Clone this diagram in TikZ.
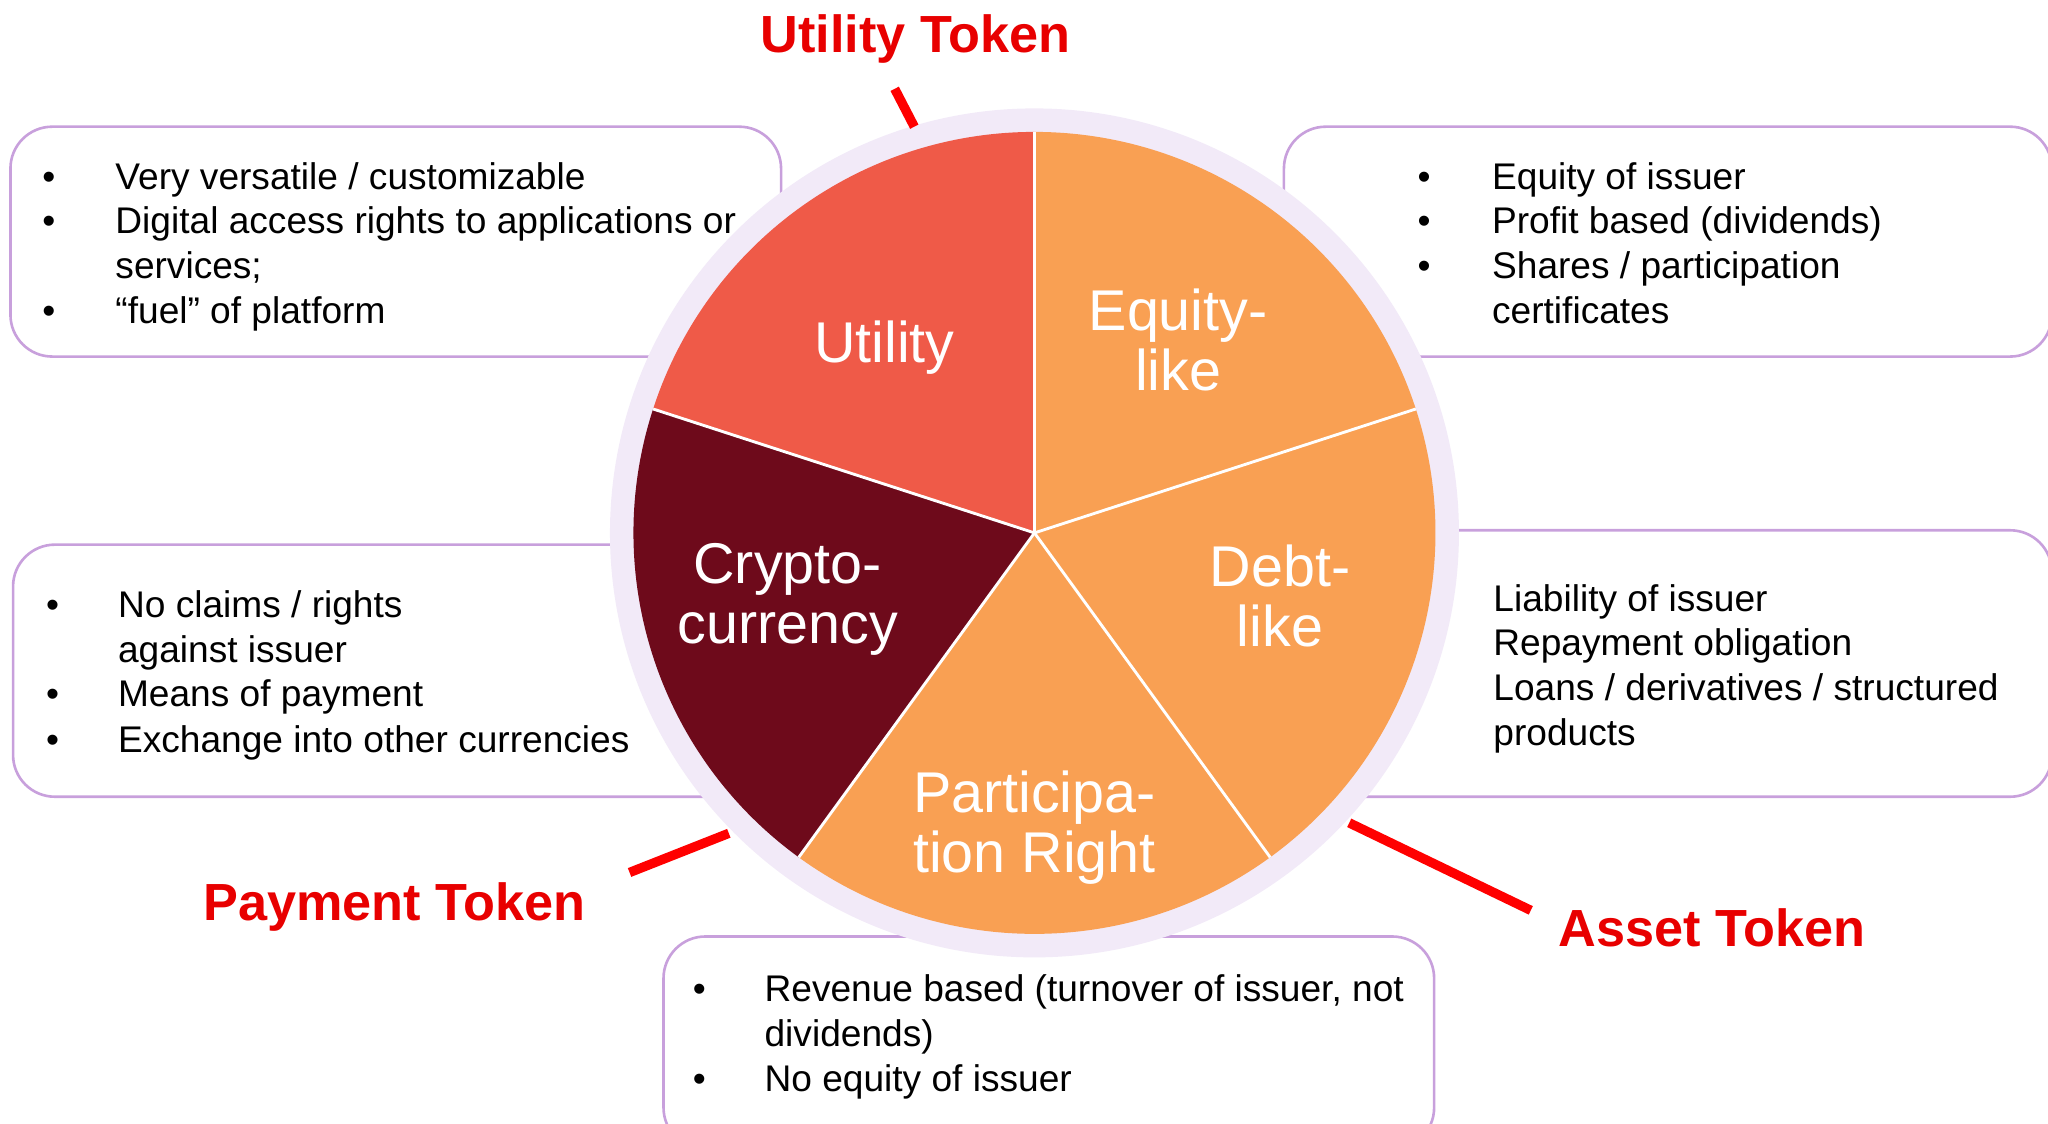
\documentclass[tikz,border=0pt]{standalone}
\usepackage{fontspec}
\setmainfont{Liberation Sans}
\definecolor{boxline}{HTML}{C8A0DC}
\definecolor{halo}{HTML}{F2EAF8}
\definecolor{utilred}{HTML}{EF5A48}
\definecolor{orangeslice}{HTML}{F9A053}
\definecolor{maroon}{HTML}{6E0A1B}
\definecolor{labelred}{HTML}{E80000}
\definecolor{linered}{HTML}{FF0000}
\tikzset{
  infobox/.style={draw=boxline, line width=1pt, fill=white, rounded corners=16pt},
  bodytext/.style={inner sep=0pt, anchor=base west, font=\fontsize{14.2pt}{17pt}\selectfont},
  bulletmark/.style={inner sep=0pt, anchor=base west, font=\fontsize{14.2pt}{17pt}\selectfont},
  slicetext/.style={inner sep=0pt, align=center, text=white, font=\fontsize{22pt}{23pt}\selectfont},
  tokenlabel/.style={inner sep=0pt, anchor=base, text=labelred, font=\fontsize{20pt}{22pt}\selectfont\bfseries},
  tokenline/.style={draw=linered, line width=3.6pt},
  divider/.style={draw=white, line width=1.1pt}
}
\begin{document}
\begin{tikzpicture}[x=0.5pt,y=-0.5pt]
\useasboundingbox (0,0) rectangle (1568,860);
\begin{scope}
\clip (0,0) rectangle (1568,860);
% info boxes
\draw[infobox] (8,97) rectangle (598,273);
\draw[infobox] (983,97) rectangle (1571,273);
\draw[infobox] (10,417) rectangle (600,610);
\draw[infobox] (1000,406) rectangle (1571,610);
\draw[infobox] (508,717) rectangle (1098,880);
% pie
\begin{scope}[shift={(792,408)}, y=0.5pt]
\fill[halo] (0,0) circle[radius=325];
\fill[utilred] (0,0) -- (90:307) arc[start angle=90, end angle=162, radius=307] -- cycle;
\fill[maroon] (0,0) -- (162:307) arc[start angle=162, end angle=234, radius=307] -- cycle;
\fill[orangeslice] (0,0) -- (234:307) arc[start angle=234, end angle=306, radius=307] -- cycle;
\fill[orangeslice] (0,0) -- (306:307) arc[start angle=306, end angle=378, radius=307] -- cycle;
\fill[orangeslice] (0,0) -- (18:307) arc[start angle=18, end angle=90, radius=307] -- cycle;
\coordinate (ctr) at (0,0);
\foreach \a in {90,18,-54,-126,162} {
  \draw[divider] (ctr) -- (\a:307);
}
\end{scope}
\end{scope}
% slice labels
\node[slicetext] (sUtil) at (677,266) {Utility};
\node[slicetext] (sEq) at (902,260) {Equity-\\like};
\node[slicetext] (sDebt) at (980,456) {Debt-\\like};
\node[slicetext] (sCrypto) at (603,459) {Crypto-\\currency};
\node[slicetext] (sPart) at (792,634) {Participa-\\tion Right};
% token labels and lines
\node[tokenlabel] (tUtil) at (701,40) {Utility Token};
\node[tokenlabel] (tPay) at (302,705) {Payment Token};
\node[tokenlabel] (tAsset) at (1311,725) {Asset Token};
\coordinate (u1) at (685,68); \coordinate (u2) at (700,97);
\coordinate (p1) at (482,668); \coordinate (p2) at (558,638);
\coordinate (a1) at (1033,630); \coordinate (a2) at (1172,697);
\draw[tokenline] (u1) -- (u2);
\draw[tokenline] (p1) -- (p2);
\draw[tokenline] (a1) -- (a2);
% box 1 text
\node[bulletmark] (b1a) at (32,145) {•};
\node[bulletmark] (b1b) at (32,179) {•};
\node[bulletmark] (b1c) at (32,248) {•};
\node[bodytext] (t1a) at (88,145) {Very versatile / customizable};
\node[bodytext] (t1b) at (88,179) {Digital access rights to applications or};
\node[bodytext] (t1c) at (88,213) {services;};
\node[bodytext] (t1d) at (88,248) {“fuel” of platform};
% box 2 text
\node[bulletmark] (b2a) at (1085,145) {•};
\node[bulletmark] (b2b) at (1085,179) {•};
\node[bulletmark] (b2c) at (1085,213) {•};
\node[bodytext] (t2a) at (1142,145) {Equity of issuer};
\node[bodytext] (t2b) at (1142,179) {Profit based (dividends)};
\node[bodytext] (t2c) at (1142,213) {Shares / participation};
\node[bodytext] (t2d) at (1142,248) {certificates};
% box 3 text
\node[bulletmark] (b3a) at (35,473) {•};
\node[bulletmark] (b3b) at (35,541) {•};
\node[bulletmark] (b3c) at (35,576) {•};
\node[bodytext] (t3a) at (90,473) {No claims / rights};
\node[bodytext] (t3b) at (90,507) {against issuer};
\node[bodytext] (t3c) at (90,541) {Means of payment};
\node[bodytext] (t3d) at (90,576) {Exchange into other currencies};
% box 4 text
\node[bodytext] (t4a) at (1143,468) {Liability of issuer};
\node[bodytext] (t4b) at (1143,502) {Repayment obligation};
\node[bodytext] (t4c) at (1143,536) {Loans / derivatives / structured};
\node[bodytext] (t4d) at (1143,571) {products};
% box 5 text
\node[bulletmark] (b5a) at (530,767) {•};
\node[bulletmark] (b5b) at (530,836) {•};
\node[bodytext] (t5a) at (585,767) {Revenue based (turnover of issuer, not};
\node[bodytext] (t5b) at (585,801) {dividends)};
\node[bodytext] (t5c) at (585,836) {No equity of issuer};
\end{tikzpicture}
\end{document}
